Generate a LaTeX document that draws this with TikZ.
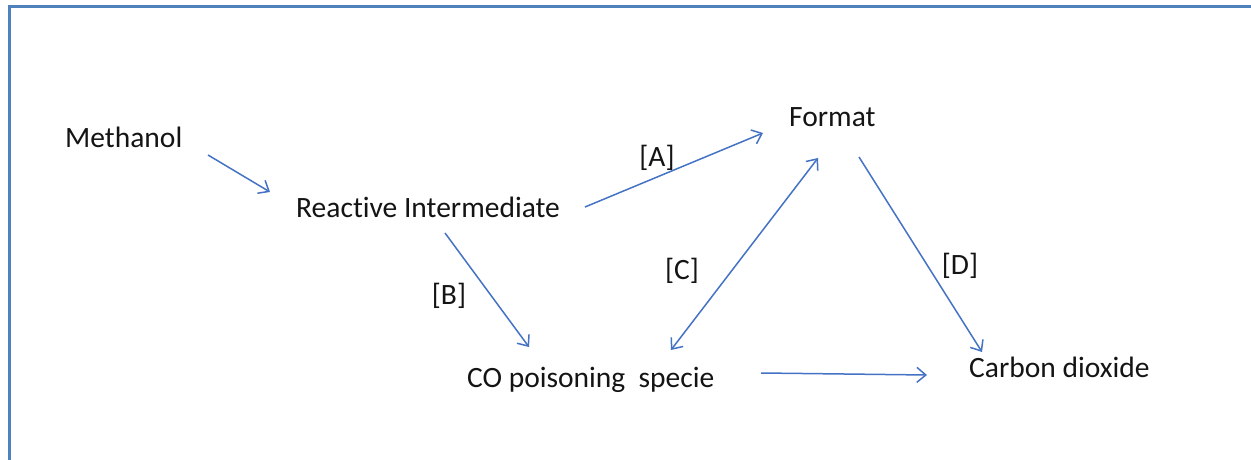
\documentclass[tikz,border=0pt]{standalone}
\usepackage{fontspec}
\setmainfont{Carlito}[Ligatures={NoCommon}]
\usetikzlibrary{arrows.meta,calc}
\definecolor{framec}{HTML}{4F81BD}
\definecolor{arrc}{HTML}{4472C4}
\definecolor{txtc}{HTML}{141414}
\tikzset{
  lbl/.style={inner sep=0pt, anchor=base west, text=txtc, font=\fontsize{29.5}{32}\selectfont},
  tag/.style={inner sep=0pt, text=txtc, font=\fontsize{29.5}{32}\selectfont},
  arr/.style={draw=arrc, line width=1.5pt, -{Straight Barb[length=9pt,width=15pt,line width=1.5pt]}},
  darr/.style={draw=arrc, line width=1.5pt, {Straight Barb[length=9pt,width=15pt,line width=1.5pt]}-{Straight Barb[length=9pt,width=15pt,line width=1.5pt]}},
  framel/.style={draw=framec, line width=3pt}
}
\begin{document}
\begin{tikzpicture}[x=1pt,y=-1pt]
\useasboundingbox (0,0) rectangle (1251,460);
\draw[framel] (1251,7) -- (9,7) -- (9,460);
\node[lbl] (meth) at (65,147) {Methanol};
\node[lbl] (ri) at (296,217) {Reactive Intermediate};
\node[lbl] (fmt) at (789,126) {Format};
\node[lbl] (co) at (467,387) {CO poisoning\ \ specie};
\node[lbl] (co2) at (969,377) {Carbon dioxide};
\draw[arr] ($(meth.base west)+(143,8)$) -- ($(ri.base west)+(-26,-25)$);
\draw[arr] ($(ri.base west)+(289,-10)$) -- ($(fmt.base west)+(-26,7)$);
\draw[arr] ($(ri.base west)+(149,16)$) -- ($(co.base west)+(62,-40)$);
\draw[darr] ($(co.base west)+(204,-37)$) -- ($(fmt.base west)+(29,32)$);
\draw[arr] ($(fmt.base west)+(70,31)$) -- ($(co2.base west)+(13,-25)$);
\draw[arr] ($(co.base west)+(294,-14)$) -- ($(co2.base west)+(-42,-2)$);
\node[tag] (la) at (657,158) {[A]};
\node[tag] (lb) at (449,296) {[B]};
\node[tag] (lc) at (682,271) {[C]};
\node[tag] (ld) at (960,266) {[D]};
\end{tikzpicture}
\end{document}
